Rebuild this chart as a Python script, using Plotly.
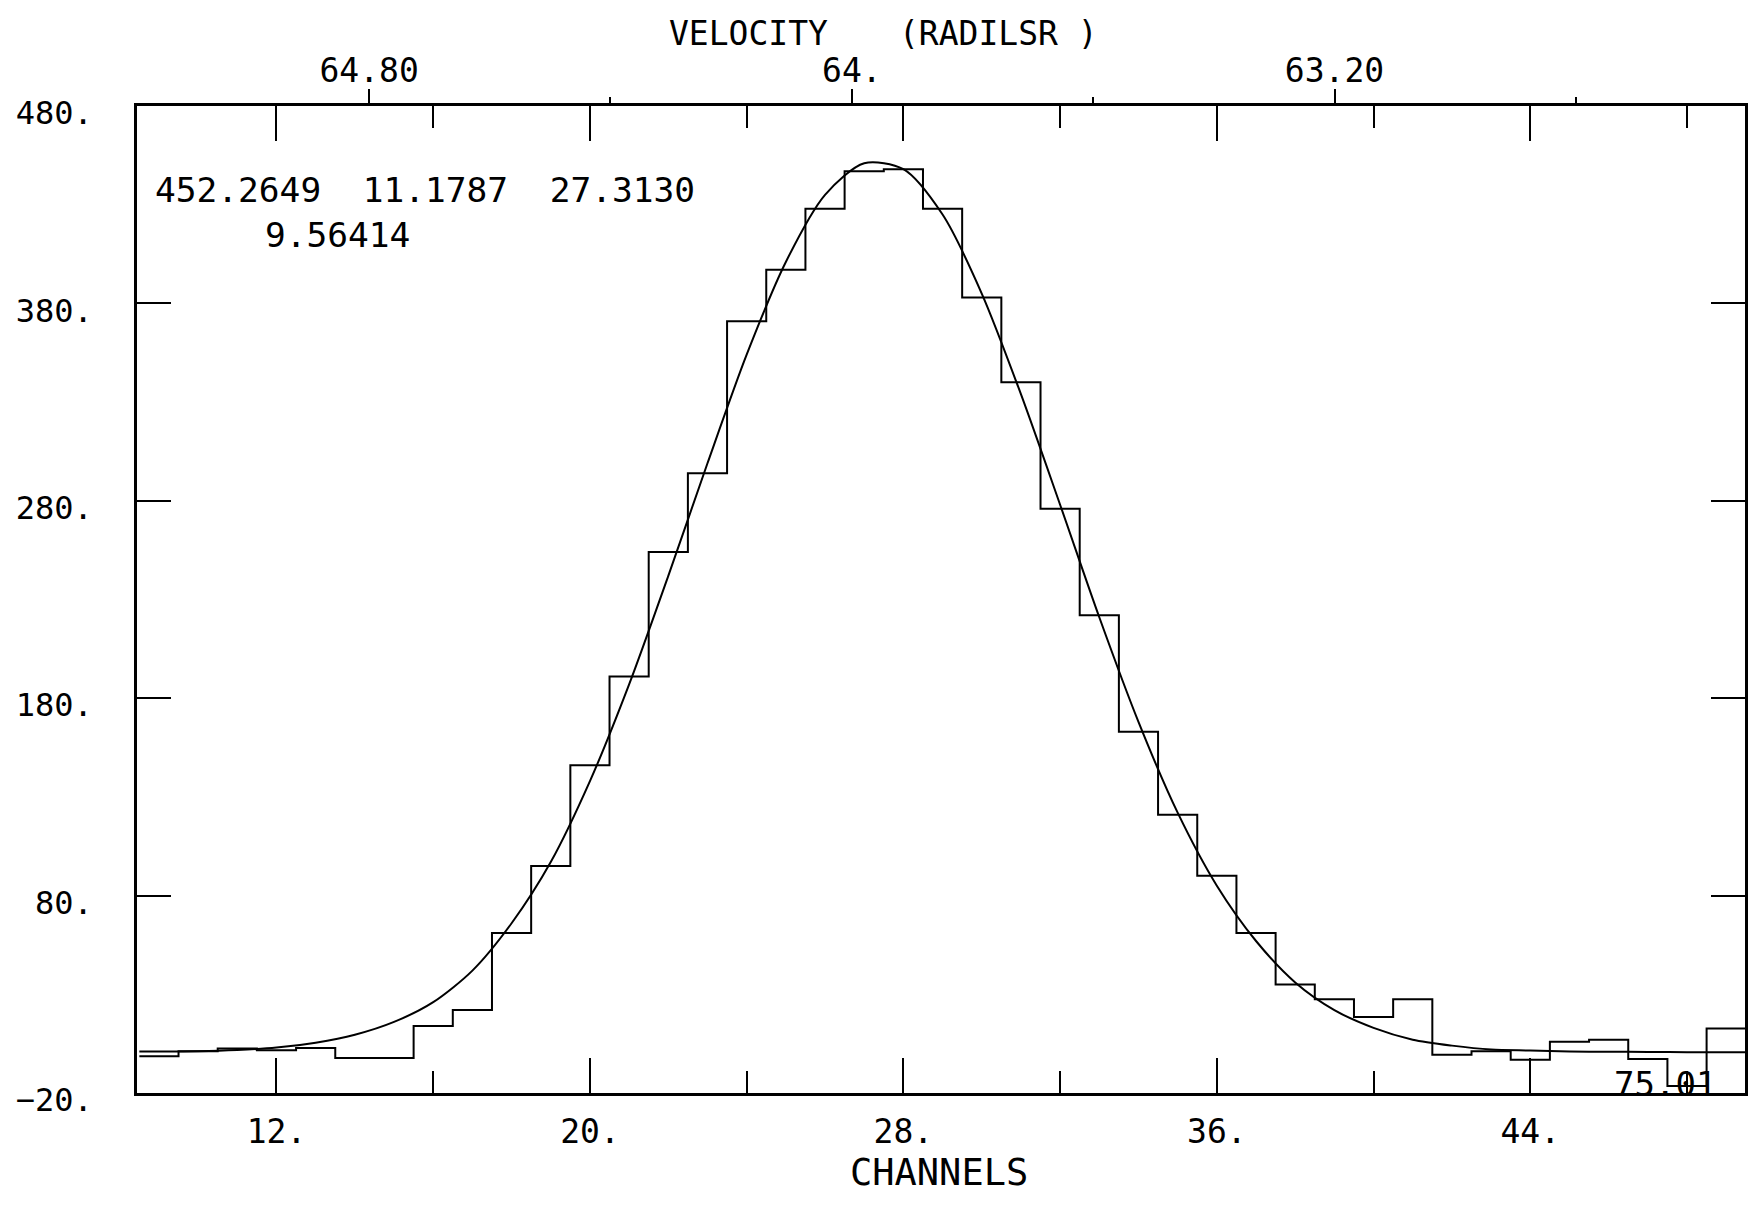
import plotly.graph_objects as go

# ---------------- data ----------------
channels = list(range(9, 50))
counts = [-1.4, 1.1, 2.5, 1.6, 2.8, -2.3, -2.3, 14, 22, 61,
          95, 146, 191, 254, 294, 371, 397, 428, 447, 448,
          428, 383, 340, 276, 222, 163, 121, 90, 61, 35,
          27.5, 18.5, 27.5, -0.6, 1.1, -3.2, 6, 7, -2.8, -16.5,
          12.7]

fit_channels = [8.5, 10, 11, 12, 13, 14, 15, 16, 17, 18, 19, 20, 21, 22, 23, 24,
                25, 26, 27, 28, 29, 30, 31, 32, 33, 34, 35, 36, 37, 38, 39,
                40, 41, 42, 43, 44, 45, 46, 47, 48, 49.5]
fit_values = [1, 1.2, 1.8, 3, 5.5, 9.5, 16, 26, 42, 66, 97, 138, 187, 242, 299, 354,
              401, 435, 451, 448, 425, 385, 334, 278, 221, 168, 122, 85, 57, 36, 22,
              13, 7, 4, 2, 1.5, 1, 0.9, 0.8, 0.7, 0.6]

fit_params_line1 = "452.2649  11.1787  27.3130"
fit_params_line2 = "9.56414"
corner_label = "75.01"

y_ticks = [480, 380, 280, 180, 80, -20]
y_ticktext = ["480.", "380.", "280.", "180.", "80.", "\u221220."]
x_ticks = [12, 20, 28, 36, 44]
x_ticktext = ["12.", "20.", "28.", "36.", "44."]
x_minor = [16, 24, 32, 40, 48]

vel_ticks = [64.8, 64.0, 63.2]
vel_ticktext = ["64.80", "64.", "63.20"]
vel_minor = [64.4, 63.6, 62.8]

# channel -> velocity relation of the top axis
CH_REF = 26.684
V_REF = 64.0
DV_PER_CH = -0.06494

CH_RANGE = [8.44, 49.48]
Y_RANGE = [-20, 480]

# ---------------- figure ----------------
FONT = "DejaVu Sans Mono, Liberation Mono, monospace"
FS = 33

x_edges = [c - 0.5 for c in channels] + [channels[-1] + 0.5]
y_steps = counts + [counts[-1]]

fig = go.Figure()
fig.add_trace(go.Scatter(x=x_edges, y=y_steps, mode="lines",
                         line=dict(shape="hv", color="black", width=2),
                         showlegend=False, hoverinfo="skip"))
fig.add_trace(go.Scatter(x=fit_channels, y=fit_values, mode="lines",
                         line=dict(shape="spline", smoothing=0.8, color="black", width=2),
                         showlegend=False, hoverinfo="skip"))

vel_range = [V_REF + (CH_RANGE[0] - CH_REF) * DV_PER_CH,
             V_REF + (CH_RANGE[1] - CH_REF) * DV_PER_CH]

fig.update_layout(
    width=1757, height=1205,
    margin=dict(l=137, r=9, t=106, b=112),
    paper_bgcolor="white", plot_bgcolor="white",
    font=dict(family=FONT, size=FS, color="black"),
    xaxis=dict(range=CH_RANGE, tickvals=x_ticks, ticktext=x_ticktext,
               ticks="inside", ticklen=35, tickwidth=2, tickcolor="black",
               showline=True, linecolor="black", linewidth=2.5, mirror="ticks",
               showgrid=False, zeroline=False, ticklabelstandoff=8,
               minor=dict(tickvals=x_minor, ticks="inside", ticklen=22,
                          tickwidth=2, tickcolor="black", showgrid=False)),
    yaxis=dict(range=Y_RANGE, tickvals=y_ticks, ticktext=y_ticktext,
               ticks="inside", ticklen=34, tickwidth=2, tickcolor="black",
               showline=True, linecolor="black", linewidth=2.5, mirror="ticks",
               showgrid=False, zeroline=False, ticklabelstandoff=35,
               ticklabelshift=7, tickfont=dict(size=32)),
    xaxis2=dict(range=vel_range, overlaying="x", side="top", anchor="y",
                tickvals=vel_ticks, ticktext=vel_ticktext,
                ticks="outside", ticklen=16, tickwidth=2, tickcolor="black",
                showline=False, showgrid=False, zeroline=False,
                ticklabelstandoff=-6,
                minor=dict(tickvals=vel_minor, ticks="outside", ticklen=8,
                           tickwidth=2, tickcolor="black", showgrid=False)),
)

# invisible trace to activate the top velocity axis
fig.add_trace(go.Scatter(x=vel_range, y=[None, None], xaxis="x2", yaxis="y",
                         mode="lines", showlegend=False, hoverinfo="skip"))

ann = dict(showarrow=False)
fig.add_annotation(text="VELOCITY", xref="paper", yref="paper",
                   x=0.3805, y=1.073, xanchor="center", yanchor="middle",
                   font=dict(family=FONT, size=33, color="black"), **ann)
fig.add_annotation(text="(RADILSR )", xref="paper", yref="paper",
                   x=0.5357, y=1.073, xanchor="center", yanchor="middle",
                   font=dict(family=FONT, size=33, color="black"), **ann)
fig.add_annotation(text="CHANNELS", xref="paper", yref="paper",
                   x=0.4985, y=-0.081, xanchor="center", yanchor="middle",
                   font=dict(family=FONT, size=37, color="black"), **ann)
fig.add_annotation(text=fit_params_line1, xref="x", yref="y",
                   x=8.86, y=437.4, xanchor="left", yanchor="middle",
                   font=dict(family=FONT, size=34.5, color="black"), **ann)
fig.add_annotation(text=fit_params_line2, xref="x", yref="y",
                   x=11.65, y=414.8, xanchor="left", yanchor="middle",
                   font=dict(family=FONT, size=34.5, color="black"), **ann)
fig.add_annotation(text=corner_label, xref="x", yref="y",
                   x=47.45, y=-15.5, xanchor="center", yanchor="middle",
                   font=dict(family=FONT, size=34, color="black"), **ann)

fig.write_html("out.html", config={"displayModeBar": False},
               post_script="document.body.style.margin='0';document.body.style.overflow='hidden';")
